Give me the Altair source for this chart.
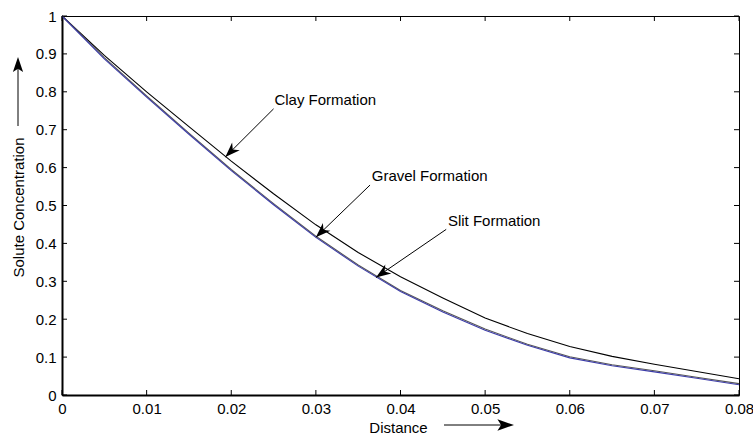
import math
import altair as alt
import pandas as pd

# ---- data ----
distance = [0, 0.005, 0.01, 0.015, 0.02, 0.025, 0.03, 0.035, 0.04, 0.045,
            0.05, 0.055, 0.06, 0.065, 0.07, 0.075, 0.08]
clay = [1.0, 0.896, 0.800, 0.708, 0.617, 0.531, 0.449, 0.376, 0.312, 0.256,
        0.203, 0.162, 0.128, 0.102, 0.081, 0.062, 0.043]
gravel = [1.0, 0.890, 0.789, 0.691, 0.595, 0.505, 0.419, 0.343, 0.276, 0.222,
          0.174, 0.134, 0.101, 0.080, 0.064, 0.047, 0.030]
slit = [1.0, 0.887, 0.786, 0.688, 0.592, 0.502, 0.416, 0.340, 0.273, 0.219,
        0.171, 0.131, 0.098, 0.077, 0.061, 0.044, 0.027]

series_names = ["Clay Formation", "Gravel Formation", "Slit Formation"]
series_colors = ["#000000", "#555555", "#3c3ca8"]

ann_labels = ["Clay Formation", "Gravel Formation", "Slit Formation"]
ann_text_x = [0.0251, 0.0366, 0.0456]
ann_text_y = [0.778, 0.578, 0.460]
ann_tail_x = [0.0250, 0.0364, 0.0454]
ann_tail_y = [0.755, 0.554, 0.437]
ann_tip_x = [0.0193, 0.0300, 0.0371]
ann_tip_y = [0.628, 0.416, 0.310]

x_ticks = [0, 0.01, 0.02, 0.03, 0.04, 0.05, 0.06, 0.07, 0.08]
y_ticks = [0, 0.1, 0.2, 0.3, 0.4, 0.5, 0.6, 0.7, 0.8, 0.9, 1.0]

# ---- layout ----
W, H = 677, 379
XMAX = 0.08
FONT = "Liberation Sans"
FS = 15

rows = []
for name, vals in zip(series_names, [clay, gravel, slit]):
    for d, v in zip(distance, vals):
        rows.append({"x": d, "y": v, "series": name})
lines_df = pd.DataFrame(rows)

ann_df = pd.DataFrame({
    "label": ann_labels,
    "tx": ann_text_x, "ty": ann_text_y,
    "x": ann_tail_x, "y": ann_tail_y,
    "x2": ann_tip_x, "y2": ann_tip_y,
})
ann_df["angle"] = [
    math.degrees(math.atan2((ty - hy) * H, (hx - tx) / XMAX * W)) % 360
    for tx, ty, hx, hy in zip(ann_tail_x, ann_tail_y, ann_tip_x, ann_tip_y)
]

xs = alt.Scale(domain=[0, XMAX], nice=False, zero=False)
ys = alt.Scale(domain=[0, 1], nice=False)

xaxis = alt.Axis(values=x_ticks, format=".2~f", title="Distance", grid=False,
                 ticks=False, tickSize=0, labelPadding=6, labelFont=FONT,
                 labelFontSize=FS, labelColor="black", domainColor="black",
                 domainWidth=2, titleFont=FONT, titleFontSize=FS,
                 titleFontWeight="normal", titleColor="black",
                 titleX=336, titleY=32, titleBaseline="middle",
                 titleAlign="center", labelFlush=False, labelOverlap=False)
yaxis = alt.Axis(values=y_ticks, format=".1~f", title="Solute Concentration",
                 grid=False, ticks=False, tickSize=0, labelPadding=6,
                 labelFont=FONT, labelFontSize=FS, labelColor="black",
                 domainColor="black", domainWidth=2, titleFont=FONT,
                 titleFontSize=FS, titleFontWeight="normal", titleColor="black",
                 titleX=-44, titleY=191, titleBaseline="middle",
                 titleAlign="center", labelFlush=False, labelOverlap=False)

X = alt.X("x:Q", scale=xs, axis=xaxis)
Y = alt.Y("y:Q", scale=ys, axis=yaxis)

lines = alt.Chart(lines_df).mark_line(strokeWidth=1.1).encode(
    x=X, y=Y,
    color=alt.Color("series:N", scale=alt.Scale(domain=series_names, range=series_colors), legend=None),
    order=alt.Order("x:Q"),
)

xt_df = pd.DataFrame({"x": x_ticks})
yt_df = pd.DataFrame({"y": y_ticks})
tick_bottom = alt.Chart(xt_df).mark_rule(color="black", strokeWidth=1).encode(
    x=X, y=alt.value(H), y2=alt.value(H - 5))
tick_top = alt.Chart(xt_df).mark_rule(color="black", strokeWidth=1).encode(
    x=X, y=alt.value(0), y2=alt.value(5))
tick_left = alt.Chart(yt_df).mark_rule(color="black", strokeWidth=1).encode(
    y=Y, x=alt.value(0), x2=alt.value(5))
tick_right = alt.Chart(yt_df).mark_rule(color="black", strokeWidth=1).encode(
    y=Y, x=alt.value(W), x2=alt.value(W - 5))

ann_lines = alt.Chart(ann_df).mark_rule(color="black", strokeWidth=1).encode(
    x=X, y=Y, x2="x2:Q", y2="y2:Q")
head_path = "M0,0 L-1,-0.36 L-0.7,0 L-1,0.36 Z"
ann_heads = alt.Chart(ann_df).mark_point(
    shape=head_path, filled=True, color="black", opacity=1, size=900, strokeWidth=0
).encode(
    x=alt.X("x2:Q", scale=xs, axis=xaxis), y=alt.Y("y2:Q", scale=ys, axis=yaxis),
    angle=alt.Angle("angle:Q", scale=None))
ann_text = alt.Chart(ann_df).mark_text(
    align="left", baseline="middle", font=FONT, fontSize=FS, color="black"
).encode(x=alt.X("tx:Q", scale=xs, axis=xaxis), y=alt.Y("ty:Q", scale=ys, axis=yaxis),
         text="label:N")

dummy = pd.DataFrame({"k": [0]})
big_head = "M0,0 L-1,-0.34 L-0.78,0 L-1,0.34 Z"
xarrow_line = alt.Chart(dummy).mark_rule(color="black", strokeWidth=1).encode(
    x=alt.value(382), x2=alt.value(448), y=alt.value(409))
xarrow_head = alt.Chart(dummy).mark_point(
    shape=big_head, filled=True, color="black", opacity=1, size=1100, strokeWidth=0, angle=0
).encode(x=alt.value(452), y=alt.value(409))
yarrow_line = alt.Chart(dummy).mark_rule(color="black", strokeWidth=1).encode(
    x=alt.value(-44), y=alt.value(110), y2=alt.value(45))
yarrow_head = alt.Chart(dummy).mark_point(
    shape=big_head, filled=True, color="black", opacity=1, size=900, strokeWidth=0, angle=270
).encode(x=alt.value(-44), y=alt.value(41))

chart = alt.layer(
    lines, tick_bottom, tick_top, tick_left, tick_right,
    ann_lines, ann_heads, ann_text,
    xarrow_line, xarrow_head, yarrow_line, yarrow_head,
).properties(
    width=W, height=H,
    padding={"left": 62, "top": 16, "right": 14, "bottom": 39},
    autosize=alt.AutoSizeParams(type="none"),
    background="white",
).configure_view(stroke="black", strokeWidth=1)

chart.save("out.html", embed_options={"renderer": "svg", "actions": False})
